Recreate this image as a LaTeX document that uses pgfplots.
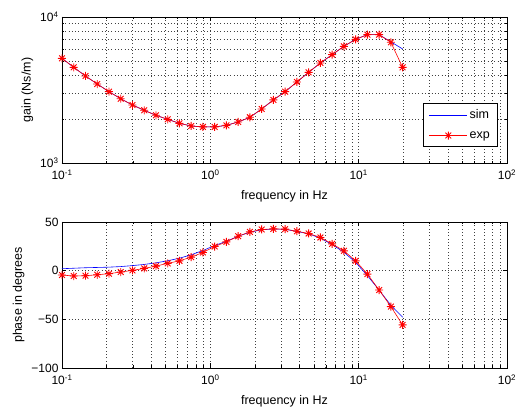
\documentclass[border=0pt]{standalone}
\usepackage{fontspec}
\setmainfont{Liberation Sans}
\usepackage{pgfplots}
\pgfplotsset{compat=1.18}

\pgfdeclareplotmark{mstar}{%
 \pgfpathmoveto{\pgfpoint{-\pgfplotmarksize}{0pt}}\pgfpathlineto{\pgfpoint{\pgfplotmarksize}{0pt}}%
 \pgfpathmoveto{\pgfpoint{0pt}{-\pgfplotmarksize}}\pgfpathlineto{\pgfpoint{0pt}{\pgfplotmarksize}}%
 \pgfpathmoveto{\pgfpoint{-0.72\pgfplotmarksize}{-0.72\pgfplotmarksize}}\pgfpathlineto{\pgfpoint{0.72\pgfplotmarksize}{0.72\pgfplotmarksize}}%
 \pgfpathmoveto{\pgfpoint{-0.72\pgfplotmarksize}{0.72\pgfplotmarksize}}\pgfpathlineto{\pgfpoint{0.72\pgfplotmarksize}{-0.72\pgfplotmarksize}}%
 \pgfusepathqstroke}

\pgfplotstableread{
f gsim gexp psim pexp
0.1 5210 5210 2.0 -4.5
0.12 4520 4520 2.5 -5.5
0.144 3945 3945 3.0 -5.2
0.1728 3475 3475 3.3 -4.2
0.2074 3080 3080 3.6 -3.1
0.2488 2755 2755 4.2 -1.4
0.2986 2495 2495 5.2 0.3
0.3583 2296 2296 6.4 2.3
0.4300 2122 2122 8.0 4.7
0.5160 1990 1990 10.2 7.5
0.6192 1870 1870 12.8 10.1
0.7430 1793 1793 16.3 13.9
0.8916 1766 1766 20.7 18.7
1.0699 1766 1766 25.8 24.8
1.2839 1811 1811 30.2 29.6
1.5407 1910 1910 35.4 35.4
1.8488 2056 2056 39.5 39.8
2.2186 2344 2344 42.0 42.3
2.6623 2704 2704 42.8 42.9
3.1948 3080 3080 42.5 42.6
3.8338 3589 3589 40.3 40.5
4.6005 4178 4178 37.8 38.2
5.5206 4842 4842 33.5 34.1
6.6247 5520 5520 26.8 27.5
7.9497 6295 6295 19.0 20.4
9.5396 7030 7030 8.5 10.1
11.4475 7565 7565 -5.0 -3.5
13.7370 7565 7565 -20.0 -19.9
16.4845 6760 6710 -35.5 -36.9
19.7814 6040 4520 -47.8 -55.7
}\datatable

\pgfplotsset{
  mystyle/.style={
    scale only axis, width=445pt, height=146pt,
    xmin=0.1, xmax=100,
    xtick={0.1,1,10,100},
    xticklabels={10\textsuperscript{-1},10\textsuperscript{0},10\textsuperscript{1},10\textsuperscript{2}},
    grid=both,
    major grid style={dash pattern=on 0.7pt off 2.6pt, black!75, line width=0.55pt},
    minor grid style={dash pattern=on 0.7pt off 2.6pt, black!75, line width=0.55pt},
    tick align=inside,
    axis line style={black, line width=0.6pt},
    every tick/.style={black, line width=0.5pt},
    major tick length=4.5pt, minor tick length=2.5pt,
    tick label style={font=\fontsize{12}{14}\selectfont},
    xticklabel style={yshift=-3pt},
    label style={font=\fontsize{12.5}{15}\selectfont},
    xlabel={frequency in Hz},
    xlabel style={yshift=-4pt},
    /pgf/number format/assume math mode=true,
  }
}

\begin{document}
\begin{tikzpicture}
\useasboundingbox (0pt,0pt) rectangle (517pt,409pt);
\begin{loglogaxis}[mystyle, at={(62pt,246pt)}, anchor=south west,
  ymin=1000, ymax=10000,
  ytick={1000,10000},
  yticklabels={10\textsuperscript{3},10\textsuperscript{4}},
  ylabel={gain (Ns/m)},
  legend style={at={(0.98,0.11)}, anchor=south east, draw=black, line width=0.6pt,
     font=\fontsize{12.5}{15}\selectfont, inner xsep=6pt, inner ysep=5pt,
     row sep=7pt},
  legend cell align=left,
  legend image code/.code={\draw[mark repeat=2,mark phase=2,#1] plot coordinates {(0pt,0pt) (19pt,0pt) (38pt,0pt)};},
]
\addplot[blue, line width=0.6pt, mark=none] table[x=f,y=gsim]{\datatable};
\addlegendentry{sim}
\addplot[red, line width=0.6pt, mark=mstar, mark size=4pt, mark options={line width=0.9pt}] table[x=f,y=gexp]{\datatable};
\addlegendentry{exp}
\end{loglogaxis}
\begin{semilogxaxis}[mystyle, at={(62pt,41pt)}, anchor=south west,
  ymin=-100, ymax=50,
  ytick={-100,-50,0,50},
  yticklabels={−100,−50,0,50},
  ylabel={phase in degrees},
]
\addplot[blue, line width=0.6pt, mark=none] table[x=f,y=psim]{\datatable};
\addplot[red, line width=0.6pt, mark=mstar, mark size=4pt, mark options={line width=0.9pt}] table[x=f,y=pexp]{\datatable};
\end{semilogxaxis}
\end{tikzpicture}
\end{document}
